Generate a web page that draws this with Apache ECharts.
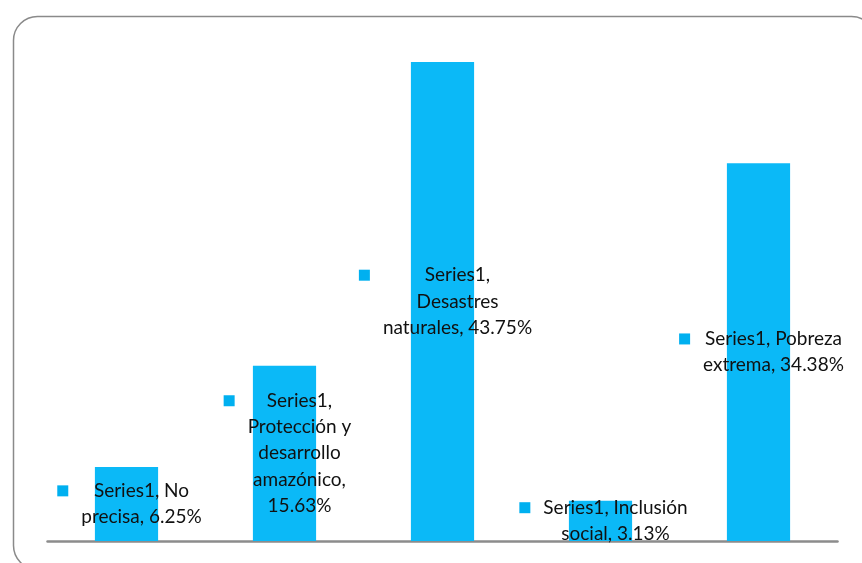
<!DOCTYPE html>
<html>
<head>
<meta charset="utf-8">
<script src="https://cdn.jsdelivr.net/npm/echarts@6/dist/echarts.min.js"></script>
<style>
html,body{margin:0;padding:0;background:#fff;}
#chart{width:862px;height:563px;}
</style>
</head>
<body>
<div id="chart"></div>
<script>
const seriesName = 'Series1';
const categories = ['No precisa', 'Protección y desarrollo amazónico', 'Desastres naturales', 'Inclusión social', 'Pobreza extrema'];
const values = [6.25, 15.63, 43.75, 3.13, 34.38];
// words per wrapped label line
const lineWordCounts = [[2, 2], [1, 2, 1, 1, 1], [1, 1, 2], [2, 2], [2, 2]];

function labelLines(i) {
  const words = (seriesName + ', ' + categories[i] + ', ' + values[i].toFixed(2) + '%').split(' ');
  const out = [];
  let k = 0;
  lineWordCounts[i].forEach(n => { out.push(words.slice(k, k + n).join(' ')); k += n; });
  return out;
}

const chart = echarts.init(document.getElementById('chart'));
chart.setOption({
  animation: false,
  backgroundColor: '#fff',
  graphic: [{
    type: 'rect', left: 11, top: 14, silent: true,
    shape: { width: 862, height: 553, r: 24 },
    style: { fill: 'none', stroke: '#8a8a8a', lineWidth: 1.5 }
  }],
  grid: { left: 47.5, right: 24.5, top: 48.5, bottom: 22 },
  xAxis: {
    type: 'category', data: categories,
    axisLine: { onZero: false, lineStyle: { color: '#8c8c8c', width: 2.5 } },
    axisTick: { show: false }, axisLabel: { show: false }, splitLine: { show: false }
  },
  yAxis: { type: 'value', min: -0.6, max: 45, startValue: -0.6, show: false, splitLine: { show: false } },
  series: [{
    type: 'bar', name: seriesName, data: values, barWidth: '40%',
    itemStyle: { color: '#0bb9f7' },
    label: {
      show: true, position: 'inside', offset: [3, 0],
      formatter: p => labelLines(p.dataIndex).map((l, j) => (j === 0 ? '{m|}{g|}' : '{s|}') + '{t|' + l + '}').join('\n'),
      rich: {
        m: { width: 11, height: 11, backgroundColor: '#00b0f0', align: 'left' },
        g: { width: 13, height: 11, align: 'left' },
        s: { width: 24, height: 11, align: 'left' },
        t: { align: 'center', color: '#111', fontFamily: 'Lato', fontSize: 19, lineHeight: 26.3 }
      },
      lineHeight: 26.3, fontFamily: 'Lato', fontSize: 19, color: '#111'
    }
  }]
});
</script>
</body>
</html>
